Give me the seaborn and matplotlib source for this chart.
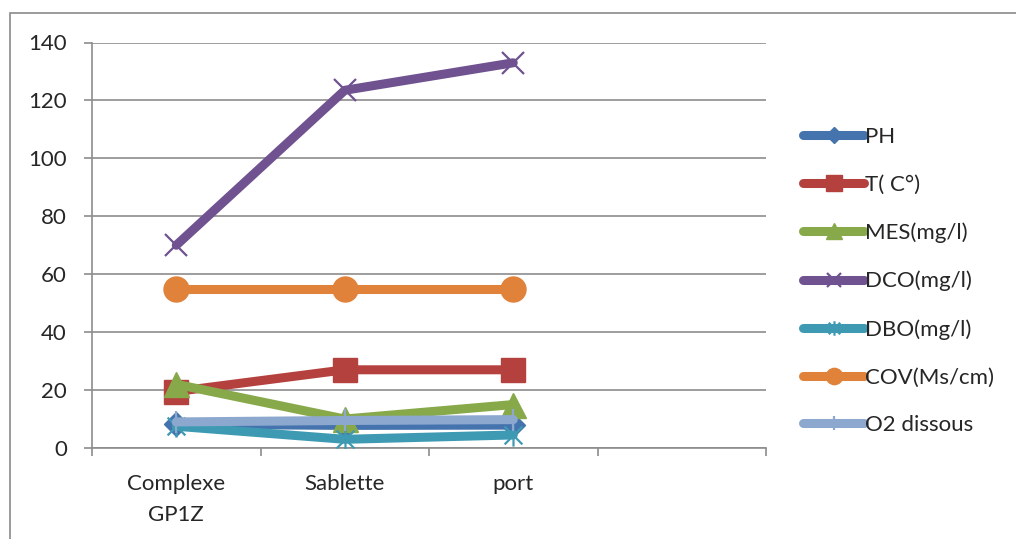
import matplotlib
matplotlib.use("Agg")
import matplotlib.pyplot as plt
import matplotlib.patches as mpatches
from matplotlib.path import Path
import seaborn as sns
import pandas as pd

sites = ["Complexe\nGP1Z", "Sablette", "port"]

ph = [8.2, 7.8, 7.9]
temp = [19.5, 27.0, 27.0]
mes = [22.0, 10.0, 15.0]
dco = [70.0, 123.5, 133.0]
dbo = [7.5, 3.0, 4.5]
cov = [55.0, 55.0, 55.0]
o2 = [9.0, 9.5, 9.8]

names = ["PH", "T( C°)", "MES(mg/l)", "DCO(mg/l)", "DBO(mg/l)", "COV(Ms/cm)", "O2 dissous"]
series = [ph, temp, mes, dco, dbo, cov, o2]

colors = ["#4573AE", "#B5413E", "#87A94A", "#6F528F", "#3E9AB2", "#E0823A", "#8DA8CF"]

# x with a vertical bar: the "star" marker
star = Path([(-1, -1), (1, 1), (-1, 1), (1, -1), (0, -1.25), (0, 1.25)],
            [Path.MOVETO, Path.LINETO, Path.MOVETO, Path.LINETO, Path.MOVETO, Path.LINETO])

styles = [
    dict(marker="D", markersize=12, filled=True),
    dict(marker="s", markersize=17, filled=True),
    dict(marker="^", markersize=18, filled=True),
    dict(marker="x", markersize=16, filled=False),
    dict(marker=star, markersize=16, filled=False),
    dict(marker="o", markersize=18, filled=True),
    dict(marker="|", markersize=16, filled=False),
]

FS = 16

sns.set_theme(style="white")
plt.rcParams["font.family"] = ["Lato", "DejaVu Sans"]
plt.rcParams["font.size"] = FS

fig = plt.figure(figsize=(10.16, 5.39), dpi=100)
ax = fig.add_axes([92 / 1016, 1 - 448 / 539, (766 - 92) / 1016, (448 - 42.5) / 539])

grid_c = "#8C8C8C"

for name, vals, col, st in zip(names, series, colors, styles):
    df = pd.DataFrame({"site": sites, "val": vals})
    kw = dict(marker=st["marker"], markersize=st["markersize"])
    if st["filled"]:
        kw.update(markerfacecolor=col, markeredgecolor=col, markeredgewidth=1)
    else:
        kw.update(markerfacecolor="none", markeredgecolor=col, markeredgewidth=1.6)
    sns.lineplot(data=df, x="site", y="val", ax=ax, color=col, linewidth=6.5,
                 sort=False, label=name, solid_capstyle="round", zorder=3, **kw)

ax.set_xlim(-0.5, 3.5)
ax.set_ylim(0, 140)
ax.set_yticks(range(0, 141, 20))
ax.yaxis.grid(True, color=grid_c, linewidth=1.2)
ax.set_axisbelow(True)
ax.set_xlabel("")
ax.set_ylabel("")

# category labels sit between the boundary ticks
ax.set_xticks([-0.5, 0.5, 1.5, 2.5, 3.5])
ax.set_xticklabels([])
ax.set_xticks([0, 1, 2], minor=True)
ax.set_xticklabels(sites, minor=True, linespacing=1.65)
ax.tick_params(axis="x", which="major", direction="out", length=6, width=1.2,
               color=grid_c, bottom=True)
ax.tick_params(axis="x", which="minor", length=0, pad=19, labelsize=FS, bottom=True)
ax.tick_params(axis="y", direction="out", length=6, width=1.2, color=grid_c,
               pad=12, labelsize=FS, left=True)

for s in ["top", "right"]:
    ax.spines[s].set_visible(False)
for s in ["left", "bottom"]:
    ax.spines[s].set_color(grid_c)
    ax.spines[s].set_linewidth(1.2)

leg = ax.legend(loc="center left", bbox_to_anchor=(803 / 1016, 1 - 281 / 539),
                bbox_transform=fig.transFigure, frameon=False, borderpad=0,
                borderaxespad=0, handlelength=2.75, handletextpad=0.05,
                labelspacing=1.25, fontsize=FS)
for h in leg.legend_handles:
    h.set_markersize(h.get_markersize() * 0.65)
    h.set_solid_capstyle("round")

# chart frame
fig.patches.append(mpatches.Rectangle((10 / 1016, -0.1), 1.2, 1 - 13 / 539 + 0.1,
                                      transform=fig.transFigure, fill=False,
                                      edgecolor="#8A8A8A", linewidth=1.2, zorder=0))

fig.savefig("out.png", dpi=100, facecolor="white")
